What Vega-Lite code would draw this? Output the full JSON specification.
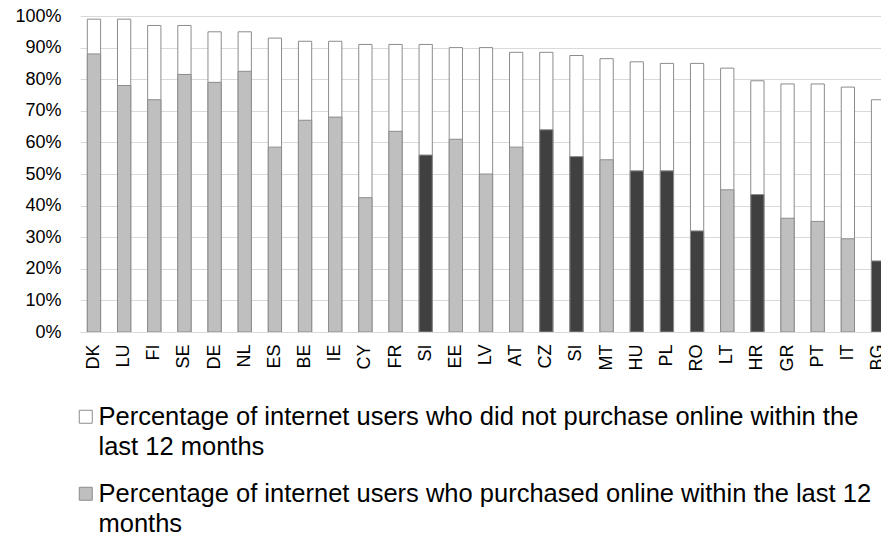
{
  "$schema": "https://vega.github.io/schema/vega-lite/v6.json",
  "autosize": {"type": "none"},
  "width": 801,
  "height": 316,
  "padding": {"left": 80, "top": 16, "right": 0, "bottom": 204},
  "background": "white",
  "config": {
    "font": "Liberation Sans",
    "view": {"stroke": null},
    "style": {"guide-label": {"lineHeight": 30}}
  },
  "data": {
    "values": [
      {"id": "DK", "bought": 88, "total": 99},
      {"id": "LU", "bought": 78, "total": 99},
      {"id": "FI", "bought": 73.5, "total": 97},
      {"id": "SE", "bought": 81.5, "total": 97},
      {"id": "DE", "bought": 79, "total": 95},
      {"id": "NL", "bought": 82.5, "total": 95},
      {"id": "ES", "bought": 58.5, "total": 93},
      {"id": "BE", "bought": 67, "total": 92},
      {"id": "IE", "bought": 68, "total": 92},
      {"id": "CY", "bought": 42.5, "total": 91},
      {"id": "FR", "bought": 63.5, "total": 91},
      {"id": "SI-1", "bought": 56, "total": 91, "dark": true},
      {"id": "EE", "bought": 61, "total": 90},
      {"id": "LV", "bought": 50, "total": 90},
      {"id": "AT", "bought": 58.5, "total": 88.5},
      {"id": "CZ", "bought": 64, "total": 88.5, "dark": true},
      {"id": "SI-2", "bought": 55.5, "total": 87.5, "dark": true},
      {"id": "MT", "bought": 54.5, "total": 86.5},
      {"id": "HU", "bought": 51, "total": 85.5, "dark": true},
      {"id": "PL", "bought": 51, "total": 85, "dark": true},
      {"id": "RO", "bought": 32, "total": 85, "dark": true},
      {"id": "LT", "bought": 45, "total": 83.5},
      {"id": "HR", "bought": 43.5, "total": 79.5, "dark": true},
      {"id": "GR", "bought": 36, "total": 78.5},
      {"id": "PT", "bought": 35, "total": 78.5},
      {"id": "IT", "bought": 29.5, "total": 77.5},
      {"id": "BG", "bought": 22.5, "total": 73.5, "dark": true}
    ]
  },
  "encoding": {
    "x": {
      "field": "id",
      "type": "nominal",
      "sort": null,
      "scale": {"range": [0, 812], "paddingInner": 0.56, "paddingOuter": 0.243},
      "axis": {
        "title": null,
        "labelAngle": -90,
        "labelFontSize": 18,
        "labelColor": "#000000",
        "ticks": false,
        "domain": false,
        "grid": false,
        "labelPadding": 12,
        "labelOverlap": false,
        "labelExpr": "split(datum.label, '-')[0]"
      }
    }
  },
  "layer": [
    {
      "mark": {"type": "bar", "stroke": "#8c8c8c", "strokeWidth": 1, "clip": true},
      "encoding": {
        "y": {
          "field": "total",
          "type": "quantitative",
          "scale": {"domain": [0, 100], "nice": false},
          "axis": {
            "title": null,
            "values": [0, 10, 20, 30, 40, 50, 60, 70, 80, 90, 100],
            "labelExpr": "datum.value + '%'",
            "labelFontSize": 18,
            "labelColor": "#000000",
            "labelOverlap": false,
            "ticks": false,
            "domain": false,
            "grid": true,
            "gridColor": "#d9d9d9",
            "gridWidth": 1,
            "labelPadding": 19
          }
        },
        "fill": {
          "datum": "Percentage of internet users who did not purchase online within the|last 12 months",
          "type": "nominal",
          "scale": {
            "domain": [
              "Percentage of internet users who did not purchase online within the|last 12 months",
              "Percentage of internet users who purchased online within the last 12|months"
            ],
            "range": ["#ffffff", "#bfbfbf"]
          },
          "legend": {
            "orient": "none",
            "legendX": -7,
            "legendY": 388,
            "direction": "vertical",
            "title": null,
            "symbolType": "square",
            "symbolSize": 169,
            "symbolStrokeColor": "#8c8c8c",
            "symbolStrokeWidth": 1,
            "labelFontSize": 25.5,
            "labelColor": "#000000",
            "labelLimit": 0,
            "labelBaseline": "middle",
            "labelOffset": 0,
            "rowPadding": 20,
            "labelExpr": "split(datum.label, '|')"
          }
        }
      }
    },
    {
      "mark": {"type": "bar", "stroke": "#8c8c8c", "strokeWidth": 1, "clip": true},
      "encoding": {
        "y": {
          "field": "bought",
          "type": "quantitative",
          "axis": {
            "title": null,
            "values": [0, 10, 20, 30, 40, 50, 60, 70, 80, 90, 100],
            "labelExpr": "datum.value + '%'",
            "labelFontSize": 18,
            "labelColor": "#000000",
            "labelOverlap": false,
            "ticks": false,
            "domain": false,
            "grid": true,
            "gridColor": "#d9d9d9",
            "gridWidth": 1,
            "labelPadding": 19
          }
        },
        "fill": {
          "condition": {"test": "datum.dark", "value": "#404040"},
          "datum": "Percentage of internet users who purchased online within the last 12|months",
          "type": "nominal"
        }
      }
    }
  ]
}
